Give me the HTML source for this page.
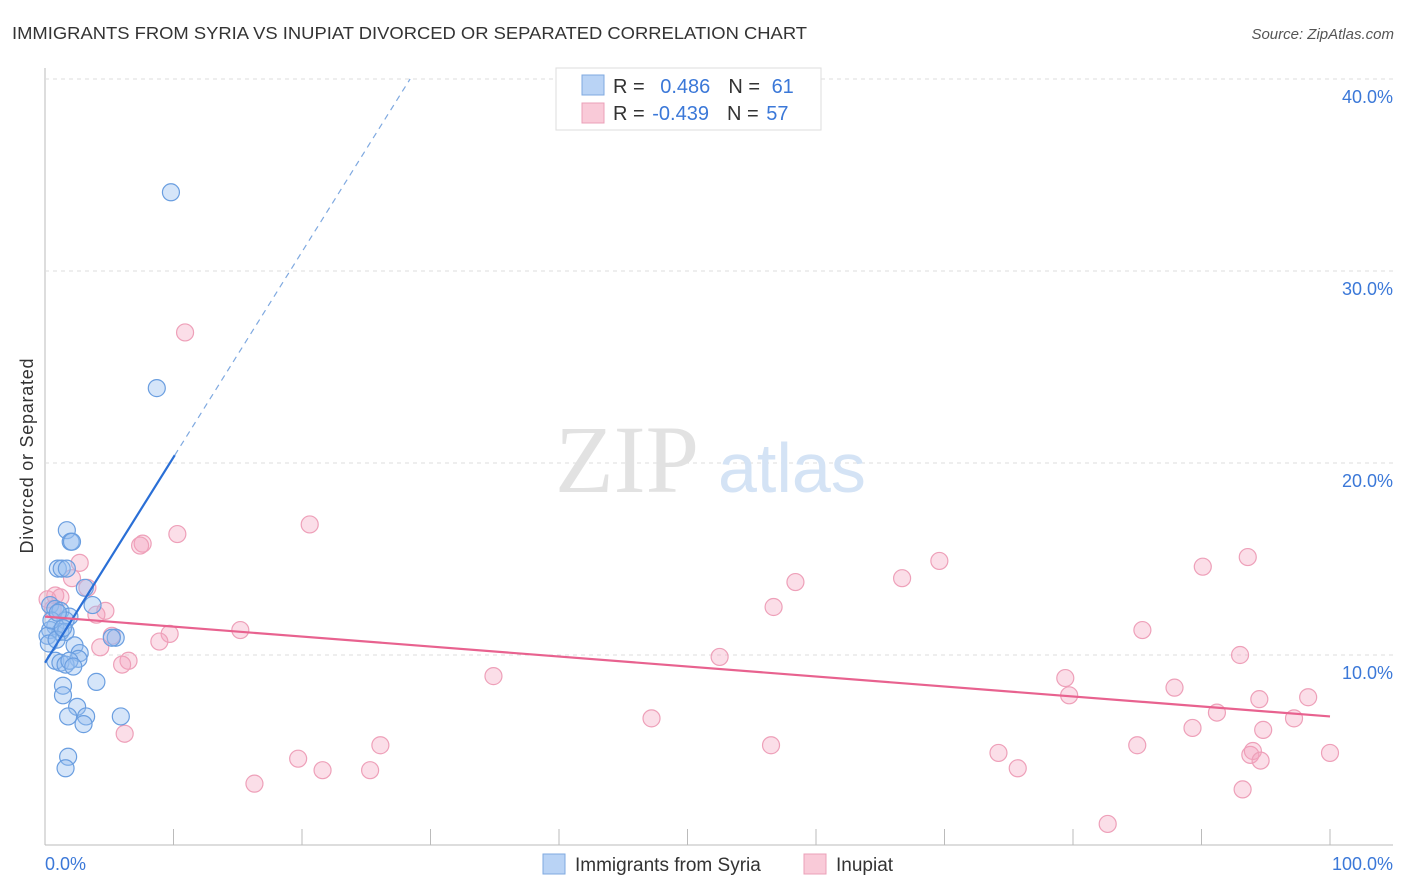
<!DOCTYPE html>
<html><head><meta charset="utf-8"><style>
body{margin:0;background:#fff;font-family:"Liberation Sans",sans-serif;}
svg{display:block}
</style></head><body>
<svg id="chart" width="1406" height="892">
<text x="12" y="39" font-size="17.5" fill="#333" textLength="795" lengthAdjust="spacingAndGlyphs">IMMIGRANTS FROM SYRIA VS INUPIAT DIVORCED OR SEPARATED CORRELATION CHART</text>
<text x="1394" y="39" font-size="15" fill="#555" text-anchor="end" font-style="italic">Source: ZipAtlas.com</text>
<text x="33" y="456" font-size="18" fill="#333" text-anchor="middle" transform="rotate(-90 33 456)" textLength="195">Divorced or Separated</text>
<g id="grid"></g>
<text x="555" y="492" font-size="96" fill="#e2e2e2" font-family="Liberation Serif,serif">ZIP</text>
<text x="718" y="492" font-size="70" fill="#d4e3f5">atlas</text>
<g id="pts"></g>
<g id="lines"></g>
<g>
<rect x="556" y="68" width="265" height="62" fill="#fff" stroke="#ddd"/>
<rect x="582" y="75" width="22" height="20" fill="#b9d3f5" stroke="#7fa9e0"/>
<rect x="582" y="103" width="22" height="20" fill="#f9cad8" stroke="#eba0b8"/>
<text x="613" y="93" font-size="20" fill="#333">R = <tspan fill="#3b78d8" dx="10">0.486</tspan><tspan dx="18" fill="#333">N = </tspan><tspan fill="#3b78d8" dx="6">61</tspan></text>
<text x="613" y="120" font-size="20" fill="#333">R = <tspan fill="#3b78d8" dx="2">-0.439</tspan><tspan dx="18" fill="#333">N = </tspan><tspan fill="#3b78d8" dx="2">57</tspan></text>
</g>
<g>
<rect x="543" y="854" width="22" height="20" fill="#b9d3f5" stroke="#7fa9e0"/>
<text x="575" y="871" font-size="19" fill="#333">Immigrants from Syria</text>
<rect x="804" y="854" width="22" height="20" fill="#f9cad8" stroke="#eba0b8"/>
<text x="836" y="871" font-size="19" fill="#333">Inupiat</text>
</g>
</svg>
<script>
const yTicks=[10,20,30,40];
const xTickLabels=["0.0%","100.0%"];
const blueX=[9.8,8.7,1.7,2.0,2.1,1.0,1.3,1.7,3.1,3.7,0.4,0.8,1.2,1.9,1.6,0.8,0.4,1.2,0.2,1.6,5.5,5.2,2.3,2.7,2.6,0.8,1.2,1.6,1.9,2.2,4.0,1.4,1.4,2.5,1.8,3.2,3.0,5.9,1.8,1.6,0.5,1.0,0.3,0.9,1.4];
const blueY=[34.1,23.9,16.5,15.9,15.9,14.5,14.5,14.5,13.5,12.6,12.6,12.4,12.3,12.0,11.8,11.5,11.3,11.2,11.0,11.2,10.9,10.9,10.5,10.1,9.8,9.7,9.6,9.5,9.7,9.4,8.6,8.4,7.9,7.3,6.8,6.8,6.4,6.8,4.7,4.1,11.8,12.2,10.6,10.8,11.4];
const pinkX=[10.9,20.6,10.3,7.6,7.4,2.7,2.1,3.3,0.8,1.2,4.7,4.0,15.2,9.7,8.9,5.2,4.3,6.5,6.0,6.2,16.3,19.7,21.6,25.3,26.1,34.9,47.2,52.5,56.5,56.7,58.4,66.7,69.6,74.2,75.7,79.4,79.7,82.7,85.0,85.4,87.9,89.3,90.1,91.2,93.0,93.6,93.2,94.5,94.8,93.8,94.0,94.6,97.2,98.3,100,0.2,0.6];
const pinkY=[26.8,16.8,16.3,15.8,15.7,14.8,14.0,13.5,13.1,13.0,12.3,12.1,11.3,11.1,10.7,11.0,10.4,9.7,9.5,5.9,3.3,4.6,4.0,4.0,5.3,8.9,6.7,9.9,5.3,12.5,13.8,14.0,14.9,4.9,4.1,8.8,7.9,1.2,5.3,11.3,8.3,6.2,14.6,7.0,10.0,15.1,3.0,7.7,6.1,4.8,5.0,4.5,6.7,7.8,4.9,12.9,12.4];
const blueTrend=[9.6,1.07];   // intercept, slope
const pinkTrend=[12.0,-0.052];
const X=v=>45+v*12.85, Y=v=>847-v*19.2;
const NS="http://www.w3.org/2000/svg";
function mk(p,t,a){const e=document.createElementNS(NS,t);for(const k in a)e.setAttribute(k,a[k]);p.appendChild(e);return e;}
const g=document.getElementById('grid');
const ax=mk(g,'line',{x1:45,y1:68,x2:45,y2:845,stroke:'#bbb'});


const bx=mk(g,'line',{x1:45,y1:845,x2:1393,y2:845,stroke:'#bbb'});


yTicks.forEach(t=>{
 const l=mk(g,'line',{x1:45,y1:Y(t),x2:1393,y2:Y(t),stroke:'#ddd','stroke-dasharray':'4,4'});
 
 
 const tx=mk(g,'text',{x:1393,y:Y(t)+24,'font-size':18,fill:'#3b78d8','text-anchor':'end'});
 tx.textContent=t.toFixed(1)+'%';
 
 
});
for(let i=1;i<=10;i++){
 const l=mk(g,'line',{x1:X(i*10),y1:829,x2:X(i*10),y2:845,stroke:'#bbb'});
 
 
}
const t0=mk(g,'text',{x:45,y:870,'font-size':18,fill:'#3b78d8'});t0.textContent=xTickLabels[0];


const t1=mk(g,'text',{x:1393,y:870,'font-size':18,fill:'#3b78d8','text-anchor':'end'});t1.textContent=xTickLabels[1];


const P=document.getElementById('pts');
pinkX.forEach((x,i)=>{const c=mk(P,'circle',{cx:X(x),cy:Y(pinkY[i]),r:8.5,fill:'rgba(244,160,190,0.35)',stroke:'#eea0b9','stroke-width':1.2});
 
 });
blueX.forEach((x,i)=>{const c=mk(P,'circle',{cx:X(x),cy:Y(blueY[i]),r:8.5,fill:'rgba(150,190,240,0.4)',stroke:'#6a9ee0','stroke-width':1.2});
 
 });
const L=document.getElementById('lines');
const bEnd=(40-blueTrend[0])/blueTrend[1];
const b1=mk(L,'line',{x1:X(0),y1:Y(blueTrend[0]),x2:X(10.1),y2:Y(blueTrend[0]+blueTrend[1]*10.1),stroke:'#2a6fd6','stroke-width':2.2});


const b2=mk(L,'line',{x1:X(10.1),y1:Y(blueTrend[0]+blueTrend[1]*10.1),x2:X(bEnd),y2:Y(40),stroke:'#7fa9e0','stroke-width':1.2,'stroke-dasharray':'6,5'});


const p1=mk(L,'line',{x1:X(0),y1:Y(pinkTrend[0]),x2:X(100),y2:Y(pinkTrend[0]+pinkTrend[1]*100),stroke:'#e8628f','stroke-width':2.2});


</script>
</body></html>
